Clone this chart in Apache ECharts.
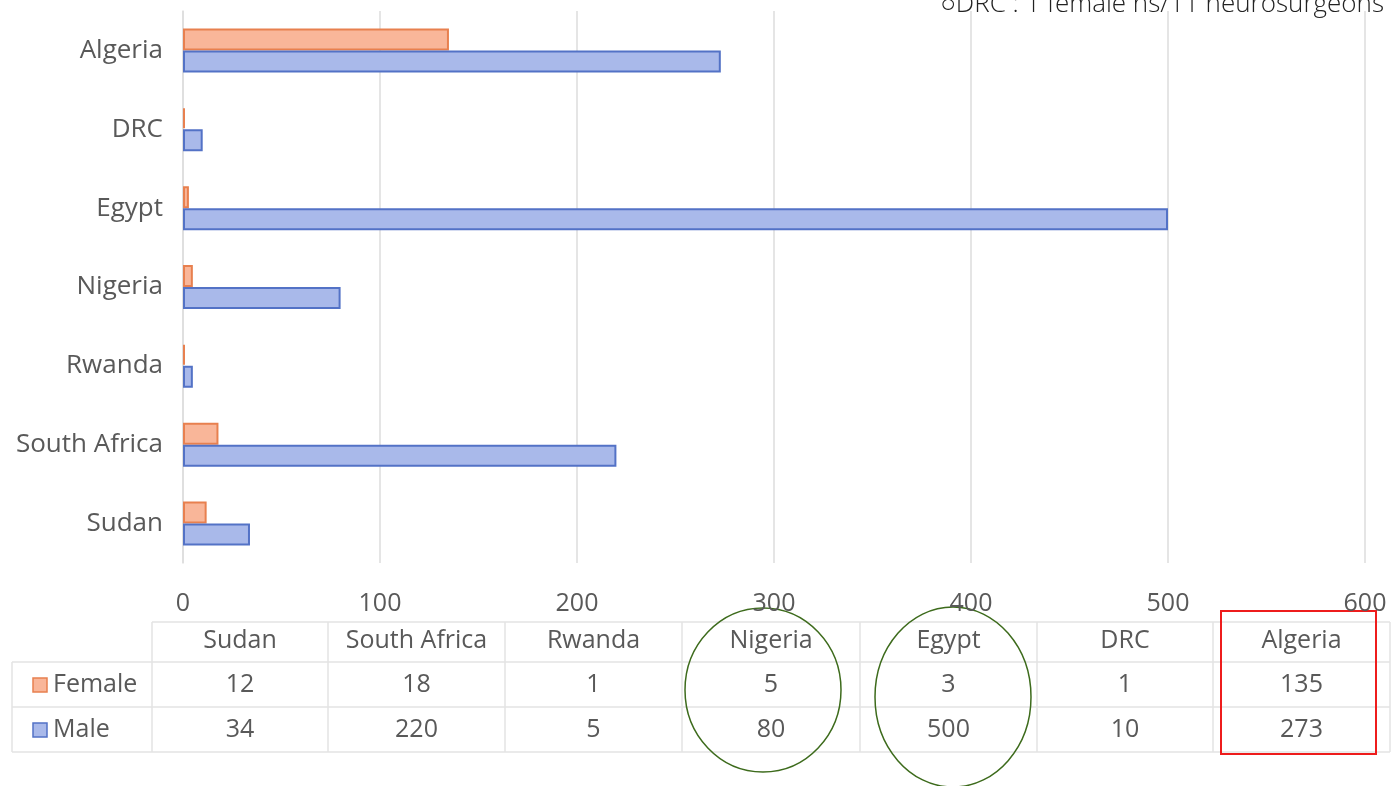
<!DOCTYPE html>
<html>
<head>
<meta charset="utf-8">
<script src="https://cdn.jsdelivr.net/npm/echarts@6/dist/echarts.min.js"></script>
<style>
  html, body { margin: 0; padding: 0; background: #fff; }
  #chart { width: 1394px; height: 786px; }
</style>
</head>
<body>
<div id="chart"></div>
<script>
// data (bottom to top on the axis, left to right in the table)
var countries = ['Sudan', 'South Africa', 'Rwanda', 'Nigeria', 'Egypt', 'DRC', 'Algeria'];
var female = [12, 18, 1, 5, 3, 1, 135];
var male = [34, 220, 5, 80, 500, 10, 273];
var xTicks = [0, 100, 200, 300, 400, 500, 600];
var note = '\u25CBDRC : 1 female ns/11 neurosurgeons';

var textColor = '#595959';
var font = '"Open Sans", "Noto Sans", sans-serif';

// table layout
var colEdges = [152, 328, 505, 682, 860, 1037, 1213, 1390];
var rowEdges = [622, 662, 707, 752];
var rowCenters = [641, 685, 730];

function buildTable() {
  var els = [];
  var lineStyle = { stroke: '#e3e3e3', lineWidth: 1.5 };
  // horizontal lines
  rowEdges.forEach(function (y, i) {
    els.push({
      type: 'line',
      shape: { x1: i === 0 ? colEdges[0] : 12, y1: y, x2: colEdges[colEdges.length - 1], y2: y },
      style: lineStyle
    });
  });
  // vertical lines
  colEdges.forEach(function (x) {
    els.push({
      type: 'line',
      shape: { x1: x, y1: rowEdges[0], x2: x, y2: rowEdges[rowEdges.length - 1] },
      style: lineStyle
    });
  });
  els.push({
    type: 'line',
    shape: { x1: 12, y1: rowEdges[1], x2: 12, y2: rowEdges[3] },
    style: lineStyle
  });
  var rows = [countries, female, male];
  rows.forEach(function (row, r) {
    row.forEach(function (v, c) {
      els.push({
        type: 'text',
        x: (colEdges[c] + colEdges[c + 1]) / 2,
        y: rowCenters[r],
        style: {
          text: String(v),
          fill: textColor,
          font: '25px ' + font,
          align: 'center',
          verticalAlign: 'middle'
        }
      });
    });
  });
  // legend keys
  var keys = [
    { name: 'Female', fill: '#f9b699', stroke: '#e8804f', y: rowCenters[1] },
    { name: 'Male', fill: '#a9b9ea', stroke: '#5372c6', y: rowCenters[2] }
  ];
  keys.forEach(function (k) {
    els.push({
      type: 'rect',
      shape: { x: 33, y: k.y - 7, width: 14, height: 14 },
      style: { fill: k.fill, stroke: k.stroke, lineWidth: 1.5 }
    });
    els.push({
      type: 'text',
      x: 53,
      y: k.y,
      style: { text: k.name, fill: textColor, font: '25px ' + font, verticalAlign: 'middle' }
    });
  });
  // annotations
  els.push({
    type: 'ellipse',
    shape: { cx: 763, cy: 690, rx: 78, ry: 82 },
    style: { fill: 'none', stroke: '#3d6b1c', lineWidth: 1.5 }
  });
  els.push({
    type: 'ellipse',
    shape: { cx: 953, cy: 697, rx: 78, ry: 90 },
    style: { fill: 'none', stroke: '#3d6b1c', lineWidth: 1.5 }
  });
  els.push({
    type: 'rect',
    shape: { x: 1221, y: 611, width: 155, height: 143 },
    style: { fill: 'none', stroke: '#ee1c1c', lineWidth: 2 }
  });
  els.push({
    type: 'text',
    right: 10,
    top: -8,
    style: { text: note, fill: '#222', font: '300 26px ' + font }
  });
  return els;
}

var option = {
  backgroundColor: '#fff',
  animation: false,
  grid: { left: 183, right: 29, top: 11, bottom: 223 },
  xAxis: {
    type: 'value',
    min: xTicks[0],
    max: xTicks[xTicks.length - 1],
    interval: 100,
    axisLine: { show: false },
    axisTick: { show: false },
    splitLine: { lineStyle: { color: '#dcdcdc', width: 1.5 } },
    axisLabel: { color: textColor, fontSize: 25, fontFamily: font, margin: 28 }
  },
  yAxis: {
    type: 'category',
    data: countries,
    axisLine: { lineStyle: { color: '#dcdcdc', width: 1.5 } },
    axisTick: { show: false },
    axisLabel: { color: textColor, fontSize: 26, fontFamily: font, margin: 20 }
  },
  series: [
    {
      name: 'Female',
      type: 'bar',
      data: female,
      barWidth: 22,
      barGap: '0%',
      itemStyle: { color: '#f9b699', borderColor: '#e8804f', borderWidth: 2 }
    },
    {
      name: 'Male',
      type: 'bar',
      data: male,
      barWidth: 22,
      barGap: '0%',
      itemStyle: { color: '#a9b9ea', borderColor: '#5372c6', borderWidth: 2 }
    }
  ],
  graphic: buildTable()
};

var chart = echarts.init(document.getElementById('chart'));
chart.setOption(option);
</script>
</body>
</html>
